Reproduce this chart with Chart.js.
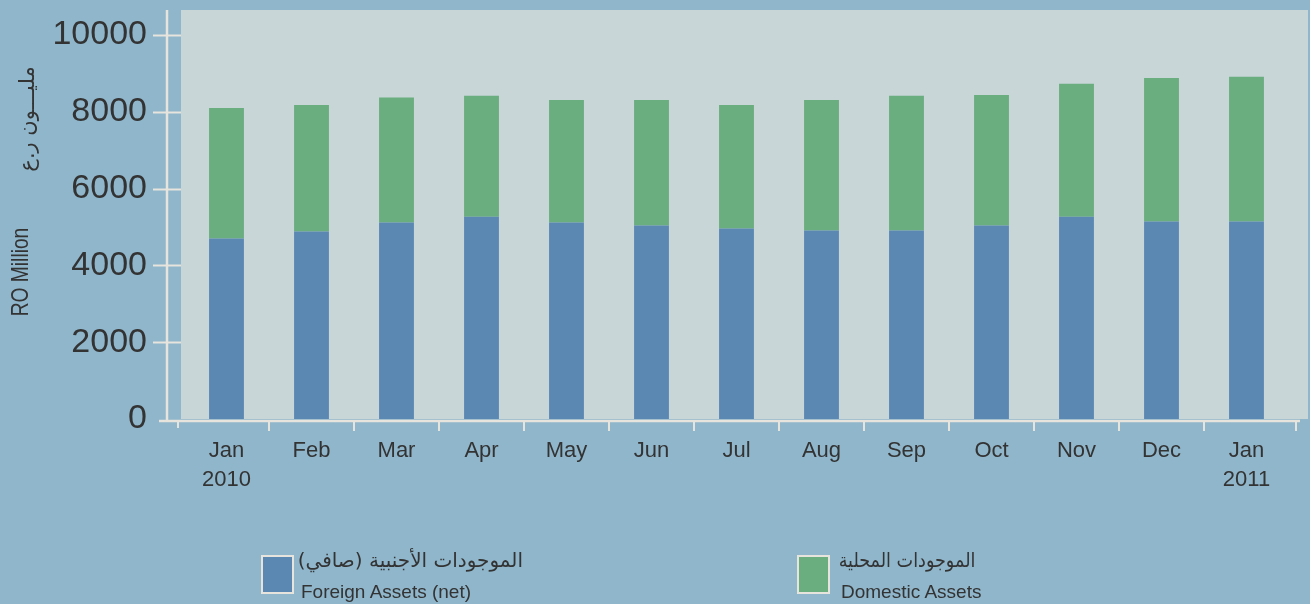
<!DOCTYPE html>
<html>
<head>
<meta charset="utf-8">
<script src="https://cdn.jsdelivr.net/npm/chart.js@4/dist/chart.umd.min.js"></script>
<style>
  html, body { margin: 0; padding: 0; background: #8fb6cb; }
  #wrap { position: relative; width: 1310px; height: 604px; overflow: hidden; background: #8fb6cb; }
  #c { position: absolute; left: 0; top: 0; }
  .t { position: absolute; color: #333; white-space: nowrap; line-height: 1; }
  .en { font-family: 'Liberation Sans', Arial, sans-serif; }
  .ar { font-family: 'DejaVu Sans', 'Noto Sans', sans-serif; direction: rtl; }
  .box { position: absolute; box-sizing: border-box; border: 2px solid #e6e4dc; }
</style>
</head>
<body>
<div id="wrap">
  <canvas id="c" width="1310" height="604"></canvas>
  <div class="t en" style="font-size:24px;left:20px;top:272px;transform:translate(-50%,-50%) rotate(-90deg) scaleX(0.8);">RO Million</div>
  <div class="t ar" style="font-size:21px;left:27px;top:119px;transform:translate(-50%,-50%) rotate(-90deg);">مليـــون ر.ع</div>

  <div class="box" style="left:261px;top:555px;width:33px;height:39px;background:#5b88b3;"></div>
  <div class="t ar" style="font-size:20px;right:787px;top:550px;">الموجودات الأجنبية (صافي)</div>
  <div class="t en" style="font-size:19px;left:301px;top:582px;">Foreign Assets (net)</div>

  <div class="box" style="left:797px;top:555px;width:33px;height:39px;background:#6aad7e;"></div>
  <div class="t ar" style="font-size:20px;right:335px;top:550px;transform:scaleX(0.88);transform-origin:right center;">الموجودات المحلية</div>
  <div class="t en" style="font-size:19px;left:841px;top:582px;">Domestic Assets</div>
</div>
<script>
const months = [["Jan","2010"],"Feb","Mar","Apr","May","Jun","Jul","Aug","Sep","Oct","Nov","Dec",["Jan","2011"]];
const foreignAssets = [4700, 4880, 5120, 5270, 5120, 5040, 4960, 4910, 4910, 5040, 5270, 5140, 5140];
const domesticAssets = [3400, 3300, 3250, 3150, 3190, 3270, 3220, 3400, 3510, 3400, 3460, 3740, 3770];
const yTicks = [0, 2000, 4000, 6000, 8000, 10000];

const AXIS = '#e6e4dc';

const decor = {
  id: 'decor',
  beforeDatasetsDraw(chart) {
    const ctx = chart.ctx, a = chart.chartArea;
    ctx.save();
    ctx.fillStyle = '#c8d6d8';
    ctx.fillRect(a.left - 3, a.top - 25, a.right + 19 - (a.left - 3), a.bottom - (a.top - 25));
    ctx.restore();
  },
  afterDatasetsDraw(chart) {
    const ctx = chart.ctx, a = chart.chartArea;
    const y = chart.scales.y, x = chart.scales.x;
    ctx.save();
    ctx.strokeStyle = AXIS;
    ctx.lineWidth = 2.5;
    ctx.beginPath();
    ctx.moveTo(167, a.top - 25);
    ctx.lineTo(167, a.bottom + 3);
    ctx.stroke();
    ctx.beginPath();
    ctx.moveTo(159, a.bottom + 2);
    ctx.lineTo(a.right + 11, a.bottom + 2);
    ctx.stroke();
    ctx.lineWidth = 2;
    yTicks.forEach(v => {
      if (v === 0) return;
      const py = Math.round(y.getPixelForValue(v)) + 0.5;
      ctx.beginPath();
      ctx.moveTo(153, py);
      ctx.lineTo(181, py);
      ctx.stroke();
    });
    const n = months.length;
    for (let i = 0; i <= n; i++) {
      let px;
      if (i === 0) px = a.left - 6;
      else if (i === n) px = a.right + 7;
      else px = (x.getPixelForTick(i - 1) + x.getPixelForTick(i)) / 2;
      ctx.beginPath();
      ctx.moveTo(Math.round(px), a.bottom + 2);
      ctx.lineTo(Math.round(px), a.bottom + (i === 0 ? 9 : 12));
      ctx.stroke();
    }
    ctx.restore();
  }
};

new Chart(document.getElementById('c'), {
  type: 'bar',
  data: {
    labels: months,
    datasets: [
      { label: 'Foreign Assets (net)', data: foreignAssets, backgroundColor: '#5b88b3', borderWidth: 0 },
      { label: 'Domestic Assets', data: domesticAssets, backgroundColor: '#6aad7e', borderWidth: 0 }
    ]
  },
  options: {
    responsive: false,
    animation: false,
    devicePixelRatio: 1,
    layout: { padding: { left: 0, top: 35, right: 21, bottom: 0 } },
    datasets: { bar: { categoryPercentage: 1, barPercentage: 0.41 } },
    plugins: { legend: { display: false }, tooltip: { enabled: false } },
    scales: {
      x: {
        stacked: true,
        offset: true,
        grid: { display: false, drawTicks: false },
        border: { display: false },
        ticks: {
          color: '#333',
          padding: 18,
          maxRotation: 0,
          autoSkip: false,
          font: { family: "'Liberation Sans', Arial", size: 22, lineHeight: 1.3 }
        },
        afterFit(s) { s.height = 604 - 419; s.paddingLeft = 0; s.paddingRight = 0; }
      },
      y: {
        stacked: true,
        min: 0,
        max: 10000,
        afterBuildTicks(s) { s.ticks = yTicks.map(v => ({ value: v })); },
        grid: { display: false, drawTicks: false },
        border: { display: false },
        ticks: {
          color: '#333',
          padding: 37,
          font: { family: "'Liberation Sans', Arial", size: 34 },
          callback: v => String(v)
        },
        afterFit(s) { s.width = 184; s.paddingTop = 0; s.paddingBottom = 0; }
      }
    }
  },
  plugins: [decor]
});
</script>
</body>
</html>
